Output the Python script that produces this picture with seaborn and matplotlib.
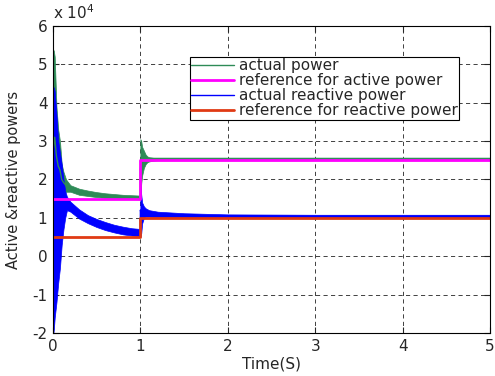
import numpy as np
import pandas as pd
import matplotlib
matplotlib.use("Agg")
import matplotlib.pyplot as plt
import seaborn as sns

# values in units of 1e4 (axis shows "x 10^4")
# actual active power: envelope of the oscillating trace
green_t = [0, 0.01, 0.02, 0.04, 0.06, 0.08, 0.10, 0.12, 0.15, 0.2, 0.3, 0.4, 0.5, 0.6, 0.7,
           0.8, 0.9, 0.999, 1.0, 1.01, 1.02, 1.04, 1.06, 1.08, 1.1, 1.15, 1.2, 1.5, 2, 3, 4, 5]
green_hi = [5.4, 5.35, 5.2, 3.9, 3.3, 3.0, 2.4, 2.2, 2.0, 1.85, 1.76, 1.71, 1.67, 1.64, 1.62,
            1.6, 1.59, 1.58, 3.05, 3.0, 2.85, 2.75, 2.65, 2.6, 2.58, 2.57, 2.57, 2.57, 2.57, 2.57, 2.57, 2.57]
green_lo = [0.0, 0.5, 1.0, 1.3, 1.4, 1.5, 1.6, 1.65, 1.68, 1.68, 1.6, 1.57, 1.54, 1.52, 1.51,
            1.5, 1.49, 1.48, 1.5, 1.9, 2.1, 2.3, 2.4, 2.45, 2.47, 2.49, 2.5, 2.5, 2.5, 2.5, 2.5, 2.5]

# actual reactive power
blue_t = [0, 0.005, 0.01, 0.02, 0.04, 0.06, 0.08, 0.10, 0.12, 0.14, 0.16, 0.2, 0.3, 0.4, 0.5,
          0.6, 0.7, 0.8, 0.9, 0.999, 1.0, 1.01, 1.02, 1.04, 1.06, 1.1, 1.2, 1.5, 2, 3, 4, 5]
blue_hi = [4.4, 4.4, 4.4, 4.3, 3.7, 3.0, 2.7, 2.4, 2.0, 1.7, 1.55, 1.42, 1.22, 1.07, 0.97,
           0.89, 0.82, 0.77, 0.73, 0.71, 1.9, 1.6, 1.4, 1.3, 1.25, 1.2, 1.16, 1.12, 1.09, 1.08, 1.08, 1.08]
blue_lo = [-2.0, -2.0, -1.9, -1.6, -1.2, -0.7, -0.3, 0.3, 0.7, 1.0, 1.2, 1.16, 0.98, 0.86, 0.76,
           0.68, 0.62, 0.57, 0.54, 0.52, 0.5, 0.6, 0.85, 1.0, 1.03, 1.03, 1.02, 1.01, 1.0, 1.0, 1.0, 1.0]

# reference steps
ref_t = [0, 1, 5]
ref_active = [1.5, 2.5, 2.5]
ref_reactive = [0.5, 1.0, 1.0]

labels = ['actual power', 'reference for active power',
          'actual reactive power', 'reference for reactive power']
colors = ['#2e8b57', '#ff00ff', '#0000ff', '#e03a14']

sns.set_style('ticks')
plt.rcParams['font.family'] = ['DejaVu Sans']
plt.rcParams['axes.unicode_minus'] = False

fig = plt.figure(figsize=(4.95, 3.76), dpi=100)
ax = fig.add_axes([0.107, 0.1144, 0.883, 0.8166])

gdf = pd.DataFrame({'t': green_t, 'lo': green_lo, 'hi': green_hi})
gdf['mid'] = (gdf['lo'] + gdf['hi']) / 2
bdf = pd.DataFrame({'t': blue_t, 'lo': blue_lo, 'hi': blue_hi})
bdf['mid'] = (bdf['lo'] + bdf['hi']) / 2

ax.fill_between(gdf['t'], gdf['lo'], gdf['hi'], color=colors[0], lw=0.5)
sns.lineplot(data=gdf, x='t', y='mid', ax=ax, color=colors[0], lw=1, label=labels[0])
sns.lineplot(x=ref_t, y=ref_active, ax=ax, color=colors[1], lw=2,
             drawstyle='steps-post', label=labels[1])
ax.fill_between(bdf['t'], bdf['lo'], bdf['hi'], color=colors[2], lw=0.5)
sns.lineplot(data=bdf, x='t', y='mid', ax=ax, color=colors[2], lw=1, label=labels[2])
sns.lineplot(x=ref_t, y=ref_reactive, ax=ax, color=colors[3], lw=2,
             drawstyle='steps-post', label=labels[3])

ax.set_xlim(0, 5)
ax.set_ylim(-2, 6)
ax.set_xticks(range(0, 6))
ax.set_yticks(range(-2, 7))
ax.grid(True, color='#222222', linestyle=(0, (5, 4)), lw=0.6)
ax.tick_params(direction='in', top=True, right=True, length=4, labelsize=11, pad=4)
for s in ax.spines.values():
    s.set_color('black')
    s.set_linewidth(0.8)

ax.set_xlabel('Time(S)', fontsize=11, labelpad=2)
ax.set_ylabel('Active &reactive powers', fontsize=10.5, labelpad=8)
ax.text(0.0, 1.012, 'x 10$^4$', transform=ax.transAxes, fontsize=11, ha='left', va='bottom')

leg = ax.legend(loc='upper left', bbox_to_anchor=(0.313, 0.899), borderaxespad=0,
                fontsize=11, labelspacing=0.0, borderpad=0.1, handlelength=2.8,
                handletextpad=0.3, fancybox=False, framealpha=1)
leg.get_frame().set_edgecolor('black')
leg.get_frame().set_linewidth(0.8)

plt.savefig('out.png', dpi=100)
plt.close()
